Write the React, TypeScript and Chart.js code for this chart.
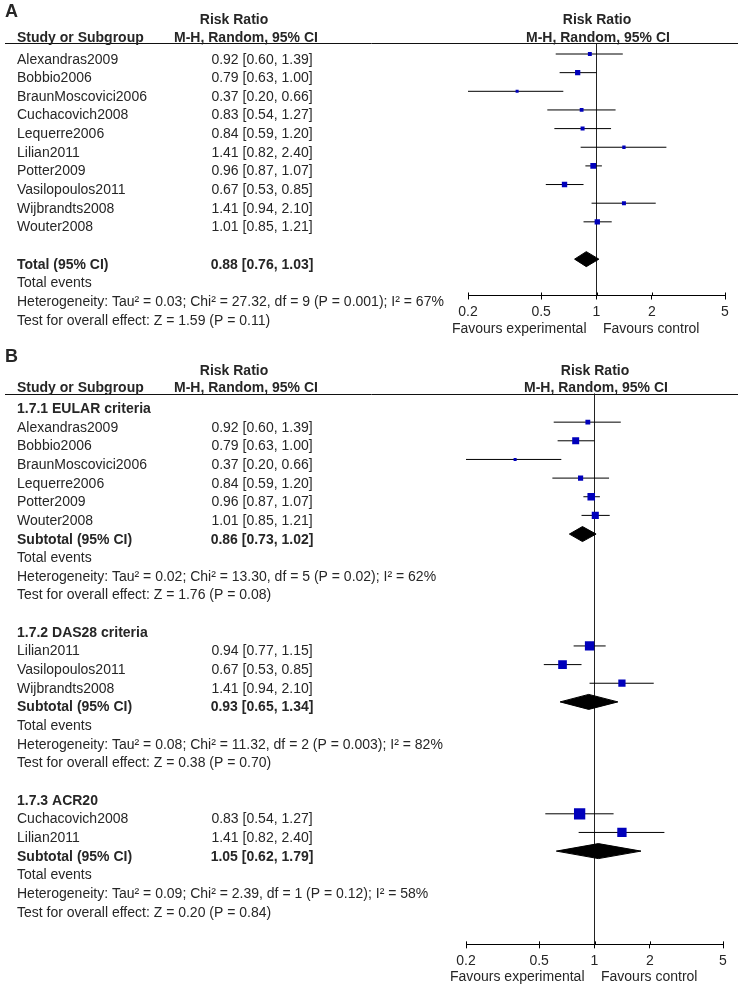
import React, { useEffect, useRef } from 'react';
import { Chart, registerables } from 'chart.js';

Chart.register(...registerables);

// ---------------- Panel A data ----------------
const studiesA = ['Alexandras2009', 'Bobbio2006', 'BraunMoscovici2006', 'Cuchacovich2008', 'Lequerre2006', 'Lilian2011', 'Potter2009', 'Vasilopoulos2011', 'Wijbrandts2008', 'Wouter2008'];
const rrA = [0.92, 0.79, 0.37, 0.83, 0.84, 1.41, 0.96, 0.67, 1.41, 1.01];
const loA = [0.60, 0.63, 0.20, 0.54, 0.59, 0.82, 0.87, 0.53, 0.94, 0.85];
const hiA = [1.39, 1.00, 0.66, 1.27, 1.20, 2.40, 1.07, 0.85, 2.10, 1.21];
const weightA = [7.6, 13.7, 4.6, 7.2, 8.0, 5.6, 16.8, 14.3, 8.0, 14.2];
const totalA = [0.88, 0.76, 1.03];
const hetA = 'Heterogeneity: Tau² = 0.03; Chi² = 27.32, df = 9 (P = 0.001); I² = 67%';
const testA = 'Test for overall effect: Z = 1.59 (P = 0.11)';

// ---------------- Panel B data ----------------
const groupsB = ['1.7.1 EULAR criteria', '1.7.2 DAS28 criteria', '1.7.3 ACR20'];
const groupOfB = [0, 0, 0, 0, 0, 0, 1, 1, 1, 2, 2];
const studiesB = ['Alexandras2009', 'Bobbio2006', 'BraunMoscovici2006', 'Lequerre2006', 'Potter2009', 'Wouter2008', 'Lilian2011', 'Vasilopoulos2011', 'Wijbrandts2008', 'Cuchacovich2008', 'Lilian2011'];
const rrB = [0.92, 0.79, 0.37, 0.84, 0.96, 1.01, 0.94, 0.67, 1.41, 0.83, 1.41];
const loB = [0.60, 0.63, 0.20, 0.59, 0.87, 0.85, 0.77, 0.53, 0.94, 0.54, 0.82];
const hiB = [1.39, 1.00, 0.66, 1.20, 1.07, 1.21, 1.15, 0.85, 2.10, 1.27, 2.40];
const weightB = [10.9, 22.7, 4.3, 12.4, 26.7, 23.3, 40.5, 35.0, 24.5, 59.5, 40.5];
const subRR = [0.86, 0.93, 1.05];
const subLo = [0.73, 0.65, 0.62];
const subHi = [1.02, 1.34, 1.79];
const hetB = [
  'Heterogeneity: Tau² = 0.02; Chi² = 13.30, df = 5 (P = 0.02); I² = 62%',
  'Heterogeneity: Tau² = 0.08; Chi² = 11.32, df = 2 (P = 0.003); I² = 82%',
  'Heterogeneity: Tau² = 0.09; Chi² = 2.39, df = 1 (P = 0.12); I² = 58%',
];
const testB = [
  'Test for overall effect: Z = 1.76 (P = 0.08)',
  'Test for overall effect: Z = 0.38 (P = 0.70)',
  'Test for overall effect: Z = 0.20 (P = 0.84)',
];

// ---------------- Axis ----------------
const xTicks = [0.2, 0.5, 1, 2, 5];
const xTickLabels = ['0.2', '0.5', '1', '2', '5'];

// ---------------- Styles ----------------
const FONT = '"Liberation Sans", Arial, Helvetica, sans-serif';
const TEXT = '#262626';
const BLUE = '#0000BB';
const NAME_X = 17;
const NUM_X = 262;
const HEAD1_X = 234;
const HEAD2_X = 246;
const ROW_PX = 18.65;
const TEXT_DY = 9.5;
const DIAMOND_HALF_PX = 7.5;

type Row = { row: number; name: string; bold?: boolean; num?: string };
type Mark = { row: number; est: number; lo: number; hi: number; side: number };
type Diamond = { row: number; est: number; lo: number; hi: number };
type Panel = {
  letter: string;
  rows: Row[];
  marks: Mark[];
  diamonds: Diamond[];
  height: number;
  padLeft: number;
  padRight: number;
  padTop: number;
  padBottom: number;
  yMin: number;
  yMax: number;
};

const fmt = (e: number, l: number, h: number) => `${e.toFixed(2)} [${l.toFixed(2)}, ${h.toFixed(2)}]`;

function buildPanelA(): Panel {
  const rows: Row[] = [];
  const marks: Mark[] = [];
  const maxW = Math.max(...weightA);
  studiesA.forEach((s, i) => {
    rows.push({ row: i, name: s, num: fmt(rrA[i], loA[i], hiA[i]) });
    marks.push({ row: i, est: rrA[i], lo: loA[i], hi: hiA[i], side: 5.8 * Math.sqrt(weightA[i] / maxW) });
  });
  const n = studiesA.length;
  rows.push({ row: n + 1, name: 'Total (95% CI)', bold: true, num: fmt(totalA[0], totalA[1], totalA[2]) });
  rows.push({ row: n + 2, name: 'Total events' });
  rows.push({ row: n + 3, name: hetA });
  rows.push({ row: n + 4, name: testA });
  return {
    letter: 'A',
    rows,
    marks,
    diamonds: [{ row: n + 1, est: totalA[0], lo: totalA[1], hi: totalA[2] }],
    height: 345,
    padLeft: 468,
    padRight: 17,
    padTop: 43,
    padBottom: 20.7,
    yMin: -0.59,
    yMax: 12.95,
  };
}

function buildPanelB(): Panel {
  const rows: Row[] = [];
  const marks: Mark[] = [];
  const diamonds: Diamond[] = [];
  const maxW = Math.max(...weightB);
  let r = 0;
  groupsB.forEach((g, gi) => {
    rows.push({ row: r, name: g, bold: true });
    r++;
    studiesB.forEach((s, i) => {
      if (groupOfB[i] !== gi) return;
      rows.push({ row: r, name: s, num: fmt(rrB[i], loB[i], hiB[i]) });
      marks.push({ row: r, est: rrB[i], lo: loB[i], hi: hiB[i], side: 11.3 * Math.sqrt(weightB[i] / maxW) });
      r++;
    });
    rows.push({ row: r, name: 'Subtotal (95% CI)', bold: true, num: fmt(subRR[gi], subLo[gi], subHi[gi]) });
    diamonds.push({ row: r, est: subRR[gi], lo: subLo[gi], hi: subHi[gi] });
    r++;
    rows.push({ row: r, name: 'Total events' });
    r++;
    rows.push({ row: r, name: hetB[gi] });
    r++;
    rows.push({ row: r, name: testB[gi] });
    r++;
    r++; // blank row
  });
  return {
    letter: 'B',
    rows,
    marks,
    diamonds,
    height: 642,
    padLeft: 466,
    padRight: 19,
    padTop: 48.5,
    padBottom: 13.85,
    yMin: -0.536,
    yMax: r,
  };
}

function drawText(chart: any, P: Panel) {
  const ctx: CanvasRenderingContext2D = chart.ctx;
  const ys = chart.scales.y;
  const xs = chart.scales.x;
  const area = chart.chartArea;
  const cx1 = xs.getPixelForValue(1);
  ctx.save();
  ctx.fillStyle = TEXT;
  ctx.textBaseline = 'alphabetic';

  // panel letter
  ctx.font = `bold 18px ${FONT}`;
  ctx.textAlign = 'left';
  ctx.fillText(P.letter, 5, 17);

  // header rule
  ctx.strokeStyle = '#111';
  ctx.lineWidth = 1;
  const ly = Math.round(area.top) + 0.5;
  ctx.beginPath();
  ctx.moveTo(5, ly);
  ctx.lineTo(738, ly);
  ctx.stroke();

  // headers
  ctx.font = `bold 14px ${FONT}`;
  const hb = area.top - 1.5;
  ctx.textAlign = 'left';
  ctx.fillText('Study or Subgroup', NAME_X, hb);
  ctx.textAlign = 'center';
  ctx.fillText('M-H, Random, 95% CI', HEAD2_X, hb);
  ctx.fillText('Risk Ratio', HEAD1_X, hb - 17.5);
  ctx.fillText('M-H, Random, 95% CI', cx1 + 1.5, hb);
  ctx.fillText('Risk Ratio', cx1 + 0.5, hb - 17.5);

  // table rows
  for (const r of P.rows) {
    const y = ys.getPixelForValue(r.row) + TEXT_DY;
    ctx.font = `${r.bold ? 'bold ' : ''}14px ${FONT}`;
    ctx.textAlign = 'left';
    ctx.fillText(r.name, NAME_X, y);
    if (r.num) {
      ctx.textAlign = 'center';
      ctx.fillText(r.num, NUM_X, y);
    }
  }

  // favours labels
  const axisY = area.bottom;
  ctx.font = `14px ${FONT}`;
  ctx.textAlign = 'right';
  ctx.fillText('Favours experimental', cx1 - 10, axisY + 37);
  ctx.textAlign = 'left';
  ctx.fillText('Favours control', cx1 + 6.5, axisY + 37);

  // upward halves of tick marks
  ctx.strokeStyle = '#000';
  ctx.beginPath();
  for (const v of xTicks) {
    const px = Math.round(xs.getPixelForValue(v)) + 0.5;
    ctx.moveTo(px, axisY - 3);
    ctx.lineTo(px, axisY);
  }
  ctx.stroke();
  ctx.restore();
}

function makeConfig(P: Panel): any {
  const dh = DIAMOND_HALF_PX / ROW_PX;
  const datasets: any[] = [];
  datasets.push({
    type: 'scatter',
    data: P.marks.map((m) => ({ x: m.est, y: m.row })),
    pointStyle: 'rect',
    pointRadius: P.marks.map((m) => m.side / Math.SQRT2),
    pointBackgroundColor: BLUE,
    pointBorderWidth: 0,
    showLine: false,
    order: 0,
  });
  P.diamonds.forEach((d) => {
    datasets.push({
      type: 'line',
      data: [
        { x: d.lo, y: d.row },
        { x: d.est, y: d.row - dh },
        { x: d.hi, y: d.row },
        { x: d.est, y: d.row + dh },
        { x: d.lo, y: d.row },
      ],
      fill: 'shape',
      backgroundColor: '#000',
      borderColor: '#000',
      borderWidth: 1,
      pointRadius: 0,
      tension: 0,
      order: 1,
    });
  });
  P.marks.forEach((m) => {
    datasets.push({
      type: 'line',
      data: [
        { x: m.lo, y: m.row },
        { x: m.hi, y: m.row },
      ],
      borderColor: '#000',
      borderWidth: 1,
      pointRadius: 0,
      fill: false,
      order: 2,
    });
  });
  datasets.push({
    type: 'line',
    data: [
      { x: 1, y: P.yMin },
      { x: 1, y: P.yMax },
    ],
    borderColor: '#222',
    borderWidth: 1,
    pointRadius: 0,
    fill: false,
    order: 3,
  });

  return {
    type: 'line',
    data: { datasets },
    options: {
      responsive: false,
      animation: false,
      events: [],
      layout: {
        padding: { left: P.padLeft, right: P.padRight, top: P.padTop, bottom: P.padBottom },
      },
      plugins: {
        legend: { display: false },
        tooltip: { enabled: false },
      },
      scales: {
        x: {
          type: 'logarithmic',
          position: 'bottom',
          min: 0.2,
          max: 5,
          afterBuildTicks: (s: any) => {
            s.ticks = xTicks.map((v) => ({ value: v }));
          },
          ticks: {
            autoSkip: false,
            maxRotation: 0,
            padding: 4,
            color: TEXT,
            font: { size: 14, family: FONT },
            callback: (_v: any, i: number) => xTickLabels[i],
          },
          grid: { drawOnChartArea: false, tickLength: 4, color: '#000', tickColor: '#000' },
          border: { display: true, color: '#000', width: 1 },
        },
        y: {
          type: 'linear',
          reverse: true,
          min: P.yMin,
          max: P.yMax,
          display: false,
        },
      },
    },
    plugins: [
      {
        id: 'forestText',
        afterDraw: (chart: any) => drawText(chart, P),
      },
    ],
  };
}

const panelA = buildPanelA();
const panelB = buildPanelB();

export default function App() {
  const refA = useRef<HTMLCanvasElement>(null);
  const refB = useRef<HTMLCanvasElement>(null);
  useEffect(() => {
    const a = new Chart(refA.current as HTMLCanvasElement, makeConfig(panelA));
    const b = new Chart(refB.current as HTMLCanvasElement, makeConfig(panelB));
    return () => {
      a.destroy();
      b.destroy();
    };
  }, []);
  return (
    <div style={{ position: 'absolute', left: 0, top: 0, width: 742, height: 987, background: '#fff' }}>
      <canvas
        ref={refA}
        width={742}
        height={panelA.height}
        style={{ position: 'absolute', left: 0, top: 0, width: 742, height: panelA.height }}
      />
      <canvas
        ref={refB}
        width={742}
        height={panelB.height}
        style={{ position: 'absolute', left: 0, top: panelA.height, width: 742, height: panelB.height }}
      />
    </div>
  );
}
